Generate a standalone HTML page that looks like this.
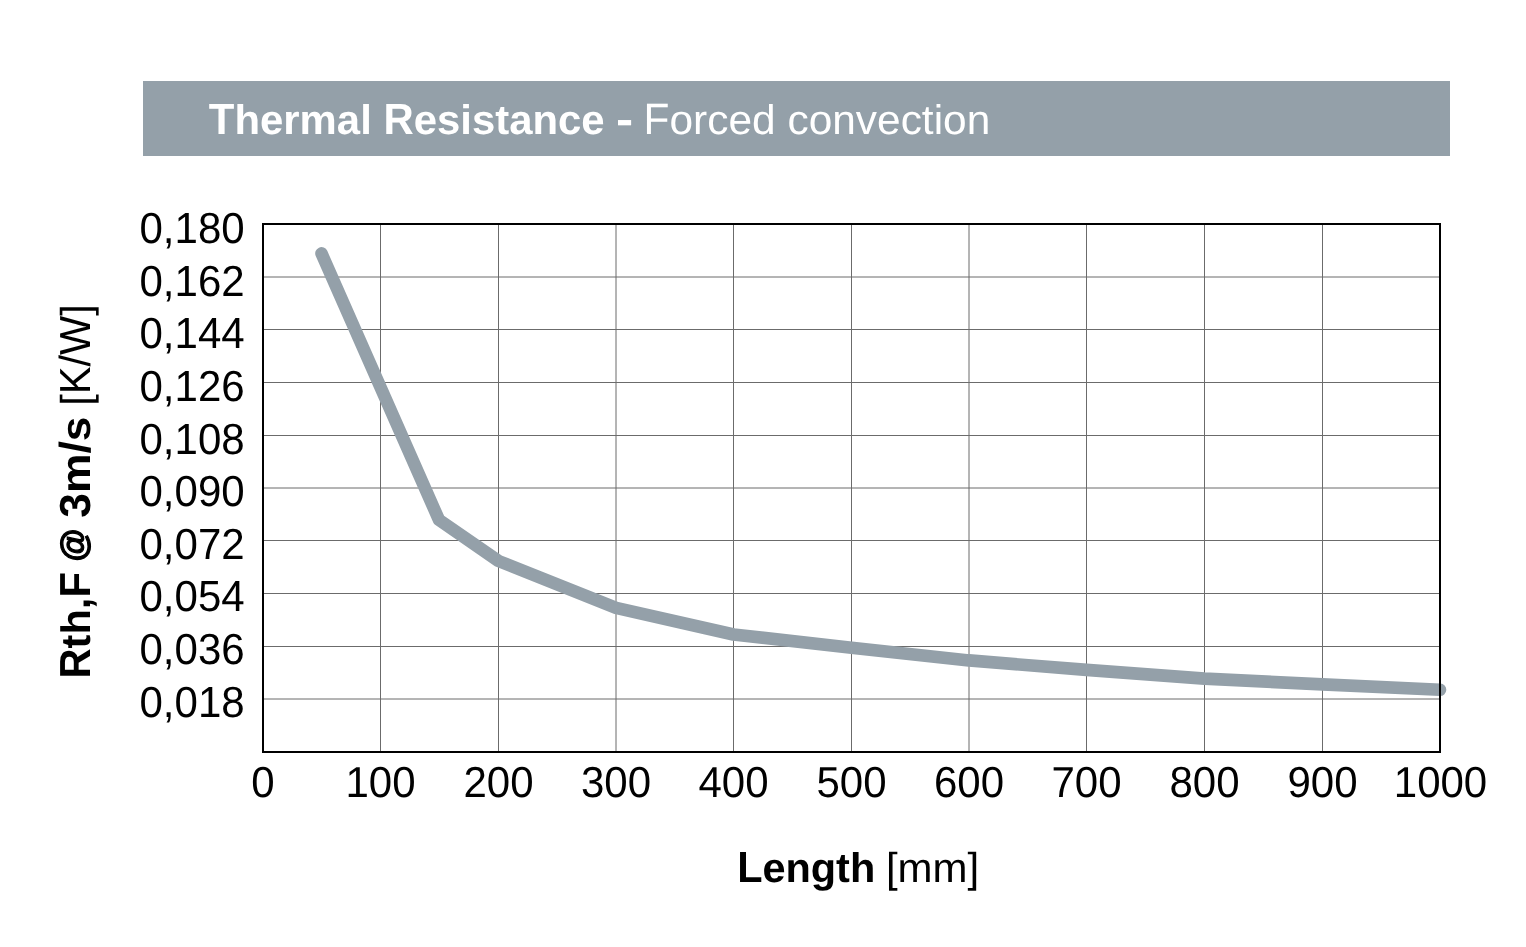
<!DOCTYPE html>
<html>
<head>
<meta charset="utf-8">
<style>
html,body{margin:0;padding:0;background:#fff;width:1526px;height:947px;overflow:hidden;}
svg{display:block;will-change:transform;}
text{font-family:"Liberation Sans",sans-serif;text-rendering:geometricPrecision;}
</style>
</head>
<body>
<svg width="1526" height="947" viewBox="0 0 1526 947">
<rect x="0" y="0" width="1526" height="947" fill="#fff"/>
<rect x="143" y="81" width="1307" height="75" fill="#94a0a9"/>
<g stroke="#6b6b6b" stroke-width="1" fill="none"><path d="M380.5 224V752M498.5 224V752M616 224V752M733.5 224V752M851.5 224V752M969 224V752M1086.5 224V752M1204.5 224V752M1322.5 224V752"/><path d="M263 277H1440M263 329.5H1440M263 382.5H1440M263 435.5H1440M263 488H1440M263 540.5H1440M263 593.5H1440M263 646.5H1440M263 699H1440"/></g>
<polyline points="321.5,253.4 439,519.9 498.5,561.0 616,607.9 733.5,634.5 851.5,647.7 969,660.4 1086.5,669.9 1204.5,678.6 1322.5,684.4 1440,689.8" fill="none" stroke="#94a0a9" stroke-width="12.6" stroke-linecap="round" stroke-linejoin="round"/>
<rect x="263" y="224" width="1177" height="528" fill="none" stroke="#000" stroke-width="2"/>
<text transform="translate(208.830,134.000) scale(0.99739,1.04231)" font-size="42" text-anchor="start" fill="#fff" font-weight="bold">T</text>
<text transform="translate(234.403,134.000) scale(0.99739,0.98707)" font-size="42" text-anchor="start" fill="#fff" font-weight="bold">hermal</text>
<text transform="translate(383.420,134.000) scale(0.99739,1.04231)" font-size="42" text-anchor="start" fill="#fff" font-weight="bold">R</text>
<text transform="translate(413.669,134.000) scale(0.99739,0.98707)" font-size="42" text-anchor="start" fill="#fff" font-weight="bold">esistance</text>
<text transform="translate(615.903,134.000) scale(1.22800,1.04231)" font-size="42" text-anchor="start" fill="#fff" font-weight="bold">-</text>
<text transform="translate(643.615,134.000) scale(1.01018,1.04411)" font-size="42" text-anchor="start" fill="#fff">F</text>
<text transform="translate(669.517,134.000) scale(1.01018,0.98877)" font-size="42" text-anchor="start" fill="#fff">orced convection</text>
<text transform="translate(244.645,243.300) scale(1.00060,1.03540)" font-size="42" text-anchor="end" fill="#000">0,180</text>
<text transform="translate(244.645,296.300) scale(1.00060,1.03540)" font-size="42" text-anchor="end" fill="#000">0,162</text>
<text transform="translate(244.645,348.300) scale(1.00060,1.03540)" font-size="42" text-anchor="end" fill="#000">0,144</text>
<text transform="translate(244.645,401.300) scale(1.00060,1.03540)" font-size="42" text-anchor="end" fill="#000">0,126</text>
<text transform="translate(244.645,454.300) scale(1.00060,1.03540)" font-size="42" text-anchor="end" fill="#000">0,108</text>
<text transform="translate(244.645,506.300) scale(1.00060,1.03540)" font-size="42" text-anchor="end" fill="#000">0,090</text>
<text transform="translate(244.645,559.300) scale(1.00060,1.03540)" font-size="42" text-anchor="end" fill="#000">0,072</text>
<text transform="translate(244.645,611.300) scale(1.00060,1.03540)" font-size="42" text-anchor="end" fill="#000">0,054</text>
<text transform="translate(244.645,664.300) scale(1.00060,1.03540)" font-size="42" text-anchor="end" fill="#000">0,036</text>
<text transform="translate(244.645,717.300) scale(1.00060,1.03540)" font-size="42" text-anchor="end" fill="#000">0,018</text>
<text transform="translate(263.000,796.800) scale(1.00060,1.03197)" font-size="42" text-anchor="middle" fill="#000">0</text>
<text transform="translate(380.500,796.800) scale(1.00060,1.03197)" font-size="42" text-anchor="middle" fill="#000">100</text>
<text transform="translate(498.500,796.800) scale(1.00060,1.03197)" font-size="42" text-anchor="middle" fill="#000">200</text>
<text transform="translate(616.000,796.800) scale(1.00060,1.03197)" font-size="42" text-anchor="middle" fill="#000">300</text>
<text transform="translate(733.500,796.800) scale(1.00060,1.03197)" font-size="42" text-anchor="middle" fill="#000">400</text>
<text transform="translate(851.500,796.800) scale(1.00060,1.03197)" font-size="42" text-anchor="middle" fill="#000">500</text>
<text transform="translate(969.000,796.800) scale(1.00060,1.03197)" font-size="42" text-anchor="middle" fill="#000">600</text>
<text transform="translate(1086.500,796.800) scale(1.00060,1.03197)" font-size="42" text-anchor="middle" fill="#000">700</text>
<text transform="translate(1204.500,796.800) scale(1.00060,1.03197)" font-size="42" text-anchor="middle" fill="#000">800</text>
<text transform="translate(1322.500,796.800) scale(1.00060,1.03197)" font-size="42" text-anchor="middle" fill="#000">900</text>
<text transform="translate(1440.500,796.800) scale(1.00060,1.03197)" font-size="42" text-anchor="middle" fill="#000">1000</text>
<text transform="translate(737.128,881.900) scale(0.98682,1.03796)" font-size="42" text-anchor="start" fill="#000" font-weight="bold">L</text>
<text transform="translate(762.431,881.900) scale(0.98682,0.98295)" font-size="42" text-anchor="start" fill="#000" font-weight="bold">ength</text>
<text transform="translate(885.883,881.900) scale(1.00006,0.99644)" font-size="42" text-anchor="start" fill="#000">[</text>
<text transform="translate(897.540,881.900) scale(1.00006,0.98295)" font-size="42" text-anchor="start" fill="#000">mm</text>
<text transform="translate(967.529,881.900) scale(1.00006,0.99644)" font-size="42" text-anchor="start" fill="#000">]</text>
<text transform="translate(89.813,678.541) rotate(-90) scale(0.99147,1.03553)" font-size="42" text-anchor="start" fill="#000" font-weight="bold">R</text>
<text transform="translate(89.813,648.471) rotate(-90) scale(0.99147,0.98065)" font-size="42" text-anchor="start" fill="#000" font-weight="bold">th</text>
<text transform="translate(89.813,609.169) rotate(-90) scale(0.99147,1.03553)" font-size="42" text-anchor="start" fill="#000" font-weight="bold">,F</text>
<text transform="translate(84.911,561.378) rotate(-90) scale(0.80088,0.82223)" font-size="42" text-anchor="start" fill="#000" font-weight="bold" stroke="#000" stroke-width="1.5">@</text>
<text transform="translate(89.813,517.628) rotate(-90) scale(1.05726,1.03553)" font-size="42" text-anchor="start" fill="#000" font-weight="bold">3</text>
<text transform="translate(89.813,492.948) rotate(-90) scale(1.05726,0.98065)" font-size="42" text-anchor="start" fill="#000" font-weight="bold">m</text>
<text transform="translate(89.813,453.449) rotate(-90) scale(1.05726,1.03553)" font-size="42" text-anchor="start" fill="#000" font-weight="bold">/</text>
<text transform="translate(89.813,441.126) rotate(-90) scale(1.05726,0.98065)" font-size="42" text-anchor="start" fill="#000" font-weight="bold">s</text>
<text transform="translate(89.813,405.777) rotate(-90) scale(0.99021,0.99411)" font-size="42" text-anchor="start" fill="#000">[</text>
<text transform="translate(89.813,394.235) rotate(-90) scale(0.99021,1.03553)" font-size="42" text-anchor="start" fill="#000">K/W</text>
<text transform="translate(89.813,315.683) rotate(-90) scale(0.99021,0.99411)" font-size="42" text-anchor="start" fill="#000">]</text>
</svg>
</body>
</html>
